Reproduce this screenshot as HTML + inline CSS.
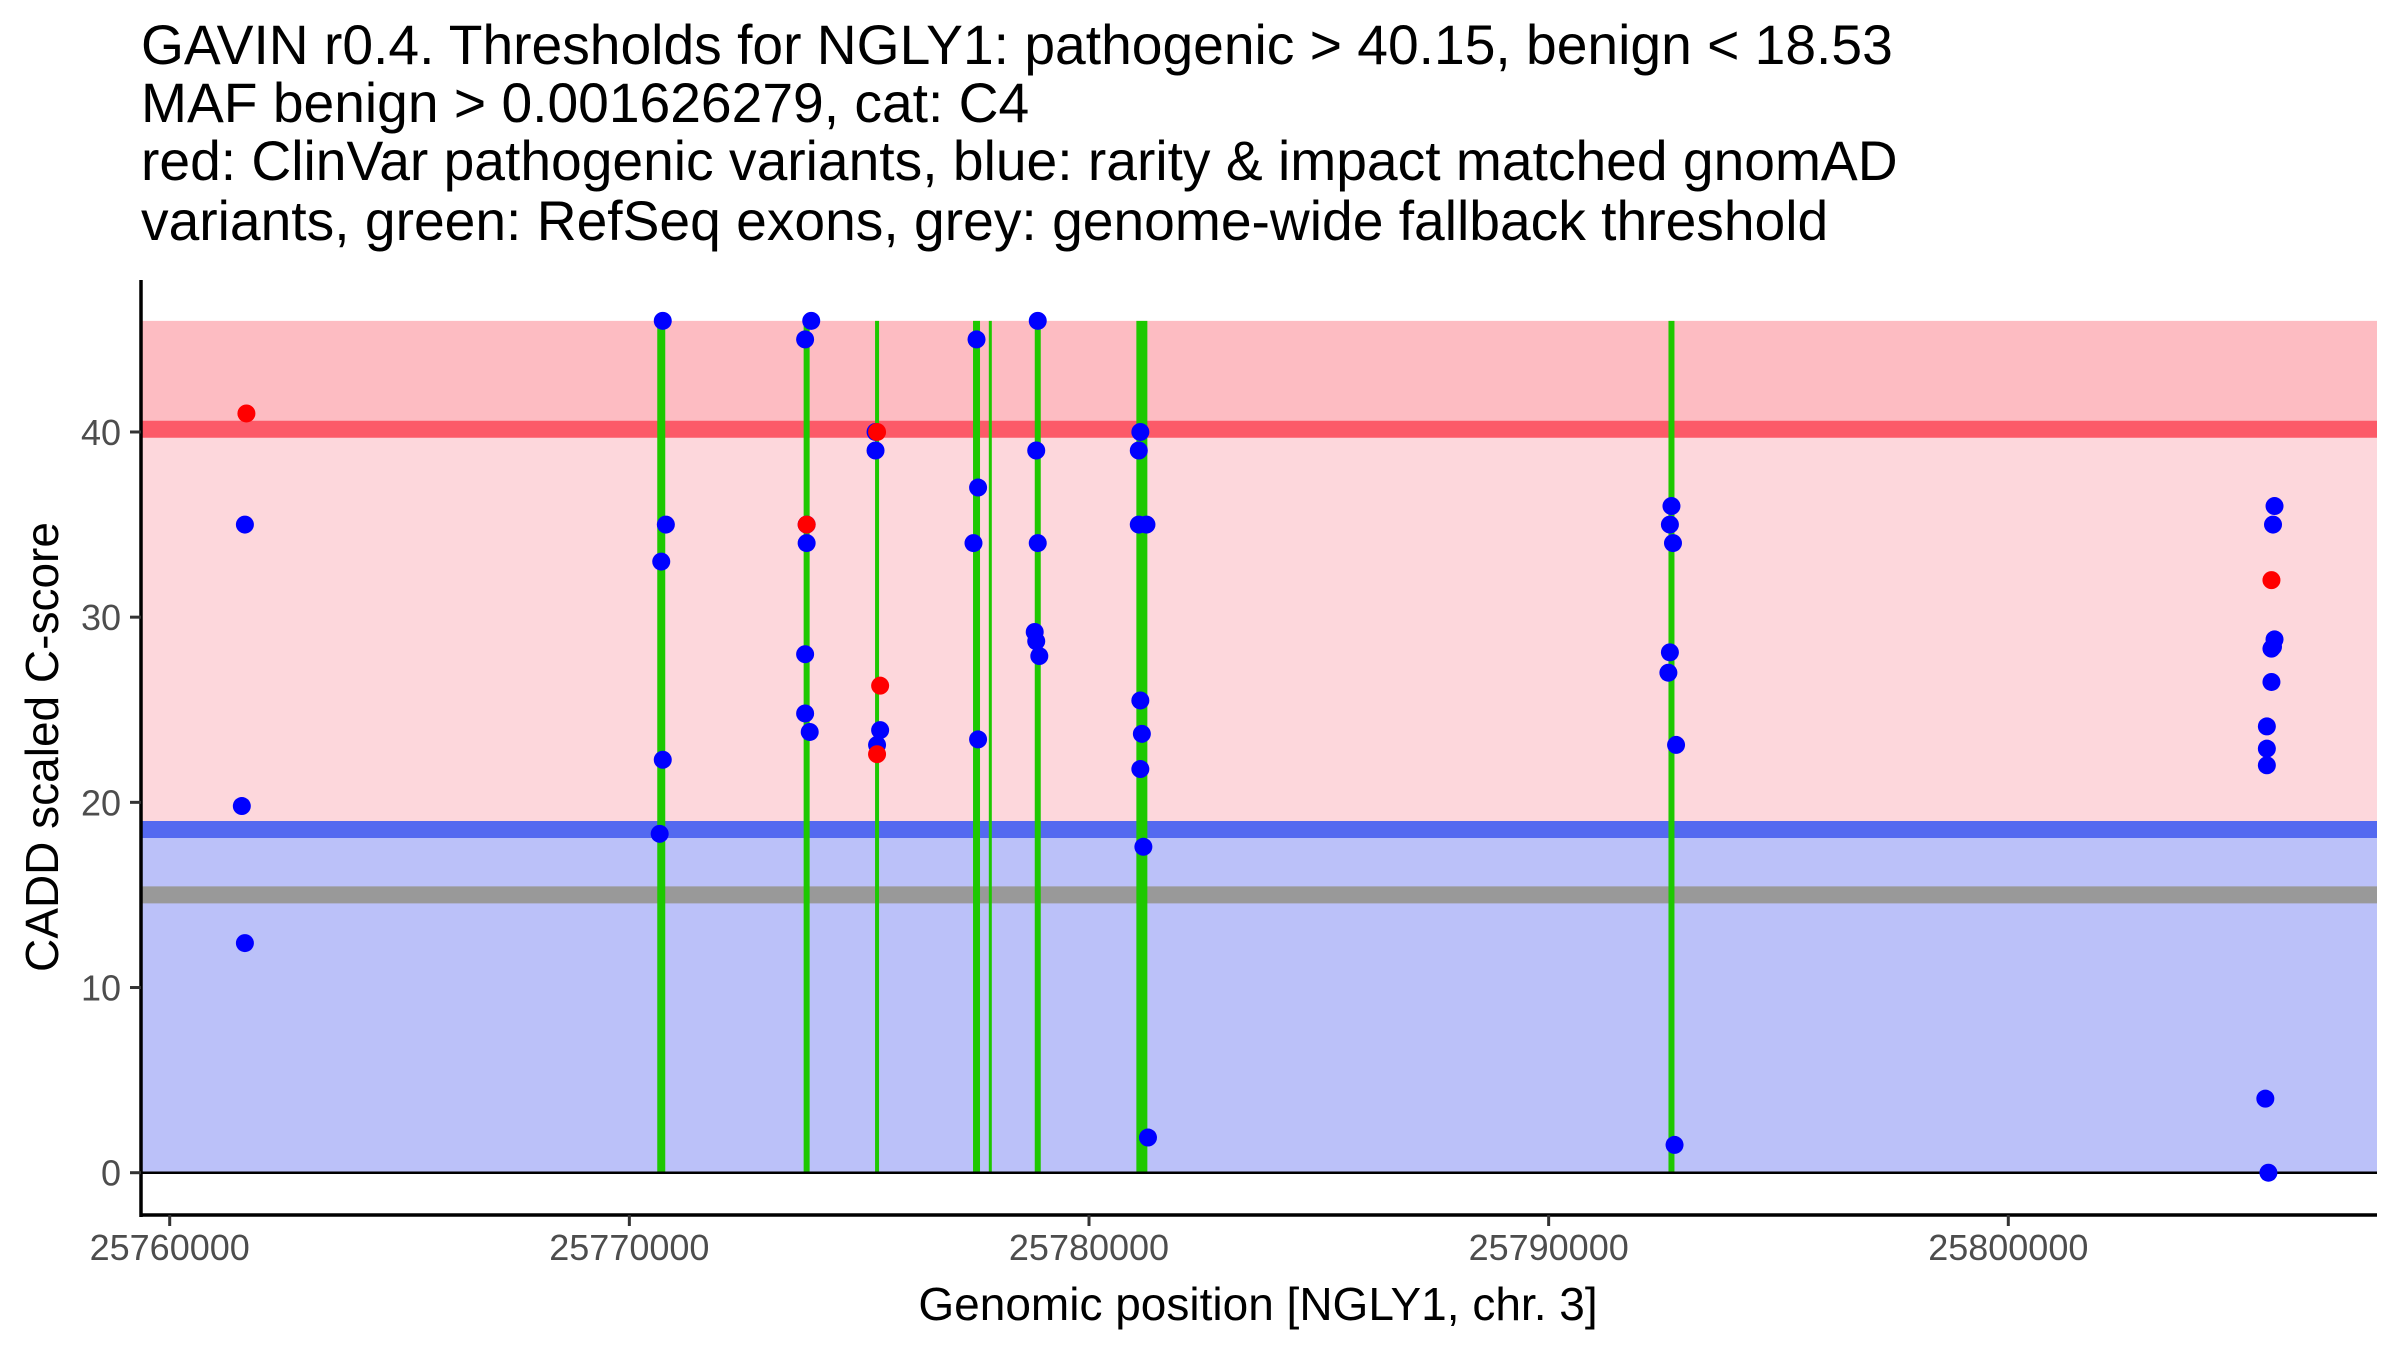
<!DOCTYPE html>
<html><head><meta charset="utf-8"><style>
html,body{margin:0;padding:0;background:#fff;}
svg{display:block;font-family:"Liberation Sans",sans-serif;}
</style></head><body>
<svg id="chart" width="2400" height="1350" viewBox="0 0 2400 1350" xmlns="http://www.w3.org/2000/svg">
<g font-size="55.2" fill="#000">
<text x="141" y="64">GAVIN r0.4. Thresholds for NGLY1: pathogenic &gt; 40.15, benign &lt; 18.53</text>
<text x="141" y="122">MAF benign &gt; 0.001626279, cat: C4</text>
<text x="141" y="180">red: ClinVar pathogenic variants, blue: rarity &amp; impact matched gnomAD</text>
<text x="141" y="240">variants, green: RefSeq exons, grey: genome-wide fallback threshold</text>
</g>
<g id="plot"></g>
<text x="1258" y="1320" font-size="46" text-anchor="middle" fill="#000">Genomic position [NGLY1, chr. 3]</text>
<text transform="translate(58,747) rotate(-90)" font-size="46" text-anchor="middle" fill="#000">CADD scaled C-score</text>
</svg>
<script>
const xTicks = [25760000, 25770000, 25780000, 25790000, 25800000];
const yTicks = [0, 10, 20, 30, 40];
const pathThr = 40.15, benignThr = 18.53, fallbackThr = 15, yMax = 46;
const exonPos = [25770694, 25773857, 25775389, 25777553, 25777853, 25778885, 25781150, 25792672];
const exonWidth = [8, 6, 4, 7, 3, 6, 11, 6];
const benignPos = [25761636,25761569,25761636,
 25770727,25770794,25770694,25770727,25770660,
 25773957,25773824,25773857,25773857,25773824,25773824,25773924,
 25775356,25775356,25775456,25775389,
 25777553,25777587,25777487,25777587,
 25778885,25778852,25778885,25778819,25778852,25778919,
 25781117,25781083,25781083,25781250,25781117,25781150,25781117,25781183,25781283,
 25792672,25792638,25792705,25792638,25792605,25792772,25792739,
 25805792,25805759,25805792,25805759,25805725,25805725,25805625,25805625,25805625,25805592,25805659];
const benignScore = [35,19.8,12.4,
 46,35,33,22.3,18.3,
 46,45,35,34,28,24.8,23.8,
 40,39,23.9,23.1,
 45,37,34,23.4,
 46,39,34,29.2,28.7,27.9,
 40,39,35,35,25.5,23.7,21.8,17.6,1.9,
 36,35,34,28.1,27,23.1,1.5,
 36,35,28.8,28.4,28.3,26.5,24.1,22.9,22,4,0];
const pathPos = [25761669, 25773857, 25775389, 25775456, 25775389, 25805725];
const pathScore = [41, 35, 40, 26.3, 22.6, 32];

const NS = "http://www.w3.org/2000/svg";
const L = 141, R = 2377, T = 280, B = 1215;
const xS = v => 169.7 + (v - 25760000) * 0.045965;
const yS = v => 1172.7 - v * 18.518;
const plot = document.getElementById('plot');
function mk(tag, attrs){const e=document.createElementNS(NS,tag);for(const k in attrs)e.setAttribute(k,attrs[k]);plot.appendChild(e);return e;}

let e;
e = mk('rect',{x:L,y:yS(yMax),width:R-L,height:yS(pathThr)-yS(yMax),fill:'#fdbcc2'});
 
e = mk('rect',{x:L,y:yS(pathThr),width:R-L,height:yS(benignThr)-yS(pathThr),fill:'#fdd7dc'});
 
e = mk('rect',{x:L,y:yS(benignThr),width:R-L,height:yS(0)-yS(benignThr),fill:'#bbc1f9'});
 
e = mk('line',{x1:L,x2:R,y1:yS(pathThr),y2:yS(pathThr),stroke:'#fc5a68','stroke-width':17});
 
e = mk('line',{x1:L,x2:R,y1:yS(benignThr),y2:yS(benignThr),stroke:'#5469f0','stroke-width':17});
 
e = mk('line',{x1:L,x2:R,y1:yS(fallbackThr),y2:yS(fallbackThr),stroke:'#999999','stroke-width':17});
 

exonPos.forEach((p,i)=>{
  const g = mk('line',{x1:xS(p),x2:xS(p),y1:yS(yMax),y2:yS(0),stroke:'#1ec800','stroke-width':exonWidth[i]});
   
});
e = mk('line',{x1:L,x2:R,y1:yS(0),y2:yS(0),stroke:'#000','stroke-width':2.5});
 

benignPos.forEach((p,i)=>{
  const c = mk('circle',{cx:xS(p),cy:yS(benignScore[i]),r:9,fill:'#0000ff'});
   
});
pathPos.forEach((p,i)=>{
  const c = mk('circle',{cx:xS(p),cy:yS(pathScore[i]),r:9,fill:'#ff0000'});
   
});

e = mk('line',{x1:L,x2:L,y1:T,y2:B+2,stroke:'#000','stroke-width':3.5});
 
e = mk('line',{x1:L-1.5,x2:R,y1:B,y2:B,stroke:'#000','stroke-width':3.5});
 

yTicks.forEach(v=>{
  const t = mk('line',{x1:L-11,x2:L,y1:yS(v),y2:yS(v),stroke:'#333','stroke-width':3});
   
  const lb = mk('text',{x:L-20,y:yS(v)+13,'font-size':36,'text-anchor':'end',fill:'#4d4d4d'});
  lb.textContent = v;
   
});
xTicks.forEach(v=>{
  const t = mk('line',{x1:xS(v),x2:xS(v),y1:B,y2:B+11,stroke:'#333','stroke-width':3});
   
  const lb = mk('text',{x:xS(v),y:B+45,'font-size':36,'text-anchor':'middle',fill:'#4d4d4d'});
  lb.textContent = v;
   
});
</script>
</body></html>
